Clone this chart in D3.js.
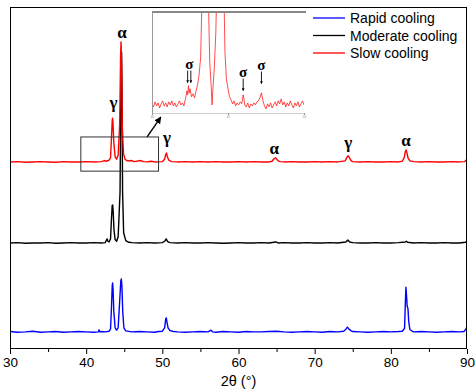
<!DOCTYPE html>
<html><head><meta charset="utf-8">
<script src="https://cdn.jsdelivr.net/npm/d3@7"></script>
<style>
html,body{margin:0;padding:0;background:#fff;}
svg{display:block;}
</style></head>
<body>
<svg id="chart" width="475" height="392"></svg>
<script>
// ---------- DATA ----------
const xTicks = [30, 40, 50, 60, 70, 80, 90];
const xMinorTicks = [35, 45, 55, 65, 75, 85];
const seriesNames = ["Rapid cooling", "Moderate cooling", "Slow cooling"];
const seriesColors = ["#0000ff", "#000000", "#ff0000"];
const seriesOffsets = [0, 260, 497];

const rapid = [
 [30,51],[31,49],[32,50],[33,52],[34,49],[35,50],[36,51],[37,49],[38,50],[39,51],[40,50],[41,49],
 [41.6,50],[41.7,56],[41.8,50],[42,51],[42.5,50],[43,52],[43.2,58],[43.32,120],[43.42,185],[43.47,193],
 [43.53,175],[43.63,110],[43.8,62],[44.0,55],[44.2,62],[44.4,140],[44.55,200],[44.62,205],[44.7,180],
 [44.8,110],[44.95,62],[45.2,53],[46,50],[47,51],[48,50],[49,49],[49.5,51],[50,52],[50.3,62],[50.45,88],
 [50.52,91],[50.6,80],[50.75,62],[51,54],[51.5,51],[52,50],[53,49],[54,50],[55,51],[56,50],[56.4,55],
 [56.6,50],[57,49],[58,51],[59,50],[60,49],[61,51],[62,50],[63,50],[64,51],[65,52],[66,50],[67,49],
 [68,50],[69,51],[70,50],[71,49],[72,51],[73,50],[73.8,52],[74.1,58],[74.3,64],[74.5,58],[74.8,53],
 [75,51],[76,50],[77,49],[78,50],[79,51],[80,50],[81,51],[81.5,52],[81.8,60],[81.9,130],[81.98,181],
 [82.05,160],[82.15,125],[82.25,118],[82.35,80],[82.5,57],[82.8,52],[83,50],[84,51],[85,50],[86,49],
 [87,50],[88,51],[89,50],[89.6,51],[89.85,58],[90,66]
];
const moderate = [
 [30,50],[31,51],[32,49],[33,50],[34,50],[35,51],[36,49],[37,50],[38,51],[39,50],[40,50],[41,51],
 [42,50],[42.5,51],[42.65,58],[42.75,62],[42.85,55],[43.0,53],[43.2,62],[43.32,120],[43.42,160],
 [43.48,161],[43.55,140],[43.65,90],[43.8,60],[44.0,55],[44.2,68],[44.45,200],[44.58,560],[44.65,608],
 [44.7,520],[44.78,200],[44.92,80],[45.2,57],[45.6,52],[46,51],[47,50],[48,51],[49,50],[50,51],
 [50.3,55],[50.5,62],[50.7,54],[51,51],[52,50],[53,51],[54,50],[55,50],[56,51],[57,50],[58,49],
 [59,50],[60,51],[61,50],[62,50],[63,51],[64,50],[64.9,53],[65.2,50],[66,51],[67,50],[68,50],[69,51],
 [70,50],[71,50],[72,51],[73,50],[74.1,53],[74.35,59],[74.6,53],[75,51],[76,50],[77,50],[78,51],
 [79,50],[80,50],[81,51],[81.9,53],[82.05,55],[82.2,52],[83,50],[84,51],[85,50],[86,50],[87,51],
 [88,50],[89,50],[89.8,52],[90,56]
];
const slow = [
 [30,50],[31,51],[32,49],[33,50],[34,51],[35,50],[36,49],[37,51],[38,50],[39,50],[40,51],[41,50],
 [42,51],[42.4,54],[42.6,52],[43.0,55],[43.2,62],[43.32,120],[43.42,170],[43.46,178],[43.52,165],
 [43.62,110],[43.8,65],[44.0,58],[44.2,70],[44.4,160],[44.52,360],[44.58,401],[44.64,350],[44.75,150],
 [44.9,75],[45.1,58],[45.4,53],[46.0,54],[46.3,51],[47.2,54],[47.5,51],[48,50],[48.5,52],[49,50],
 [50,51],[50.3,58],[50.45,72],[50.55,76],[50.65,66],[50.85,55],[51.2,51],[52,50],[53,51],[54,50],
 [55,51],[56,50],[57,51],[58,50],[59,50],[60,51],[61,50],[62,51],[63,50],[64,50],[64.4,52],[64.7,60],
 [64.85,62],[64.95,60],[65.2,53],[65.5,51],[66,50],[67,51],[68,50],[69,50],[70,51],[71,50],[72,51],
 [73,50],[74.0,53],[74.25,64],[74.4,68],[74.55,63],[74.8,53],[75,51],[76,50],[77,51],[78,50],[79,50],
 [80,51],[81,50],[81.5,52],[81.75,62],[81.9,80],[82.0,85],[82.1,78],[82.25,62],[82.5,53],[83,51],
 [84,50],[85,51],[86,50],[87,50],[88,51],[89,50],[89.7,51],[89.9,56],[90,59]
];
// zoomed inset of the slow-cooling pattern, 40–50°
const insetTicks = [40, 45, 50];
const slowInset = [
 [40.0,9],[40.1,6],[40.2,11],[40.3,7],[40.4,10],[40.5,5],[40.6,9],[40.7,12],[40.8,7],[40.9,10],
 [41.0,6],[41.1,11],[41.2,8],[41.3,12],[41.4,7],[41.5,10],[41.6,6],[41.7,9],[41.8,12],[41.9,8],
 [42.0,10],[42.1,7],[42.2,14],[42.3,22],[42.35,18],[42.4,27],[42.45,20],[42.5,24],[42.6,16],[42.7,19],
 [42.8,15],[42.9,22],[43.0,28],[43.1,38],[43.2,55],[43.3,120],[43.5,200],[43.7,120],[43.8,50],[43.9,25],
 [43.95,8],[44.0,22],[44.1,45],[44.2,80],[44.3,150],[44.5,250],[44.7,150],[44.8,60],[44.9,33],[45.0,24],
 [45.1,16],[45.2,13],[45.3,9],[45.4,12],[45.5,7],[45.6,10],[45.7,8],[45.8,11],[45.9,9],[46.0,18],
 [46.05,14],[46.1,8],[46.2,6],[46.3,10],[46.4,5],[46.5,9],[46.6,7],[46.7,10],[46.8,8],[46.9,11],
 [47.0,12],[47.1,15],[47.2,20],[47.3,12],[47.4,7],[47.5,4],[47.6,9],[47.7,6],[47.8,10],[47.9,5],
 [48.0,8],[48.1,11],[48.2,7],[48.3,12],[48.4,9],[48.5,14],[48.6,8],[48.7,11],[48.8,6],[48.9,10],
 [49.0,7],[49.1,12],[49.2,8],[49.3,5],[49.4,10],[49.5,7],[49.6,11],[49.7,6],[49.8,9],[49.9,12],[50.0,8]
];
// phase labels: [text, 2θ, plotted intensity]
const phaseLabels = [
 ["α", 44.7, 924], ["γ", 43.6, 719], ["γ", 50.6, 617],
 ["α", 64.7, 585], ["γ", 74.4, 602], ["α", 82.0, 608]
];
// sigma labels in the inset: [2θ of peak, text level, arrow top, arrow bottom, double]
const sigmaLabels = [
 [42.45, 47.5, 42, 30, true], [46.0, 39.5, 34, 22, false], [47.2, 46.5, 41, 29, false]
];
const zoomBox = [39.3, 49.5, 520, 620];
const zoomArrow = [[48.0, 620], [49.8, 678]];

// ---------- CHART ----------
const svg = d3.select("#chart");
const W = 475, H = 392;
const m = {left: 10, right: 8, top: 7, bottom: 43};
const x = d3.scaleLinear().domain([30, 90]).range([m.left, W - m.right]);
const y = d3.scaleLinear().domain([0, 1000]).range([H - m.bottom, m.top]);

const sans = "'Liberation Sans', Arial, sans-serif";
const serif = "'Liberation Serif', 'Times New Roman', serif";

const defs = svg.append("defs");
defs.append("clipPath").attr("id", "plotclip").append("rect")
  .attr("x", m.left).attr("y", m.top).attr("width", W - m.left - m.right).attr("height", H - m.top - m.bottom);
defs.append("marker").attr("id", "ah").attr("viewBox", "0 0 10 10").attr("refX", 9).attr("refY", 5)
  .attr("markerWidth", 5).attr("markerHeight", 5).attr("orient", "auto")
  .append("path").attr("d", "M0,0 L10,5 L0,10 Z").attr("fill", "#000");
defs.append("marker").attr("id", "ahs").attr("viewBox", "0 0 10 10").attr("refX", 9).attr("refY", 5)
  .attr("markerWidth", 3).attr("markerHeight", 3).attr("orient", "auto")
  .append("path").attr("d", "M0,0 L10,5 L0,10 Z").attr("fill", "#000");

// inset (drawn first, behind traces)
const ix = d3.scaleLinear().domain([40, 50]).range([152, 304]);
const iy = d3.scaleLinear().domain([0, 100]).range([113, 12]);
defs.append("clipPath").attr("id", "insetclip").append("rect")
  .attr("x", 152).attr("y", 12).attr("width", 152).attr("height", 101);
const inset = svg.append("g");
inset.append("path").datum(slowInset)
  .attr("clip-path", "url(#insetclip)")
  .attr("fill", "none").attr("stroke", "#ff2020").attr("stroke-width", 0.8)
  .attr("d", d3.line().x(d => ix(d[0])).y(d => iy(d[1])));
inset.append("line").attr("x1", 152).attr("x2", 306).attr("y1", 12).attr("y2", 12)
  .attr("stroke", "#888").attr("stroke-width", 2);
inset.append("line").attr("x1", 152.5).attr("x2", 152.5).attr("y1", 12).attr("y2", 113)
  .attr("stroke", "#999").attr("stroke-width", 1);
const iax = inset.append("g").attr("transform", "translate(0,113)")
  .call(d3.axisBottom(ix).tickValues(insetTicks).tickSize(2).tickPadding(1).tickFormat(d3.format("d")));
iax.select(".domain").attr("stroke", "#ccc");
iax.selectAll(".tick line").attr("stroke", "#999");
iax.selectAll(".tick text").attr("font-size", 3).attr("fill", "#888").attr("font-family", sans);

sigmaLabels.forEach(s => {
  const xs = s[4] ? [ix(s[0]) - 1.6, ix(s[0]) + 1.6] : [ix(s[0])];
  xs.forEach(xx => {
    inset.append("line").attr("x1", xx).attr("x2", xx).attr("y1", iy(s[2])).attr("y2", iy(s[3]))
      .attr("stroke", "#000").attr("stroke-width", 0.9).attr("marker-end", "url(#ahs)");
  });
  inset.append("text").attr("x", ix(s[0])).attr("y", iy(s[1]) + 4)
    .attr("text-anchor", "middle").attr("font-family", serif).attr("font-weight", "bold")
    .attr("font-size", 15).text("σ");
});

// traces
const line = d3.line().x(d => x(d[0])).y(d => y(d[1]));
const allSeries = [rapid, moderate, slow];
const drawOrder = [0, 1, 2];
const traces = svg.append("g").attr("clip-path", "url(#plotclip)");
drawOrder.forEach(i => {
  traces.append("path")
    .datum(allSeries[i].map(d => [d[0], d[1] + seriesOffsets[i]]))
    .attr("fill", "none").attr("stroke", seriesColors[i]).attr("stroke-width", 1.4)
    .attr("stroke-linejoin", "round")
    .attr("d", line);
});

// zoom box and arrow
svg.append("rect")
  .attr("x", x(zoomBox[0])).attr("y", y(zoomBox[3]))
  .attr("width", x(zoomBox[1]) - x(zoomBox[0])).attr("height", y(zoomBox[2]) - y(zoomBox[3]))
  .attr("fill", "none").attr("stroke", "#333").attr("stroke-width", 1);
svg.append("line")
  .attr("x1", x(zoomArrow[0][0])).attr("y1", y(zoomArrow[0][1]))
  .attr("x2", x(zoomArrow[1][0])).attr("y2", y(zoomArrow[1][1]))
  .attr("stroke", "#000").attr("stroke-width", 1.4).attr("marker-end", "url(#ah)");

// phase labels
svg.append("g").selectAll("text").data(phaseLabels).join("text")
  .attr("x", d => x(d[1])).attr("y", d => y(d[2]) + 5)
  .attr("text-anchor", "middle").attr("font-family", serif).attr("font-weight", "bold")
  .attr("font-size", 17).text(d => d[0]);

// frame
svg.append("rect").attr("x", m.left + 0.5).attr("y", m.top + 0.5)
  .attr("width", W - m.left - m.right - 1).attr("height", H - m.top - m.bottom - 1)
  .attr("fill", "none").attr("stroke", "#000").attr("stroke-width", 1);

// x axis
const xa = svg.append("g").attr("transform", `translate(0,${H - m.bottom})`)
  .call(d3.axisBottom(x).tickValues(xTicks).tickSize(5).tickPadding(3).tickFormat(d3.format("d")));
xa.select(".domain").remove();
xa.selectAll(".tick text").attr("font-size", 13.5).attr("font-family", sans).attr("fill", "#000");
const xm = svg.append("g").attr("transform", `translate(0,${H - m.bottom})`)
  .call(d3.axisBottom(x).tickValues(xMinorTicks).tickSize(3).tickFormat(""));
xm.select(".domain").remove();

svg.append("text").attr("x", (x(30) + x(90)) / 2).attr("y", 386)
  .attr("text-anchor", "middle").attr("font-family", sans).attr("font-size", 14.5)
  .text("2θ (°)");

// legend
const leg = svg.append("g");
seriesNames.forEach((n, i) => {
  const yy = 18 + i * 17.5;
  leg.append("line").attr("x1", 313).attr("x2", 345).attr("y1", yy).attr("y2", yy)
    .attr("stroke", seriesColors[i]).attr("stroke-width", 1.3);
  leg.append("text").attr("x", 350).attr("y", yy + 5)
    .attr("font-family", sans).attr("font-size", 14).text(n);
});
</script>
</body></html>
